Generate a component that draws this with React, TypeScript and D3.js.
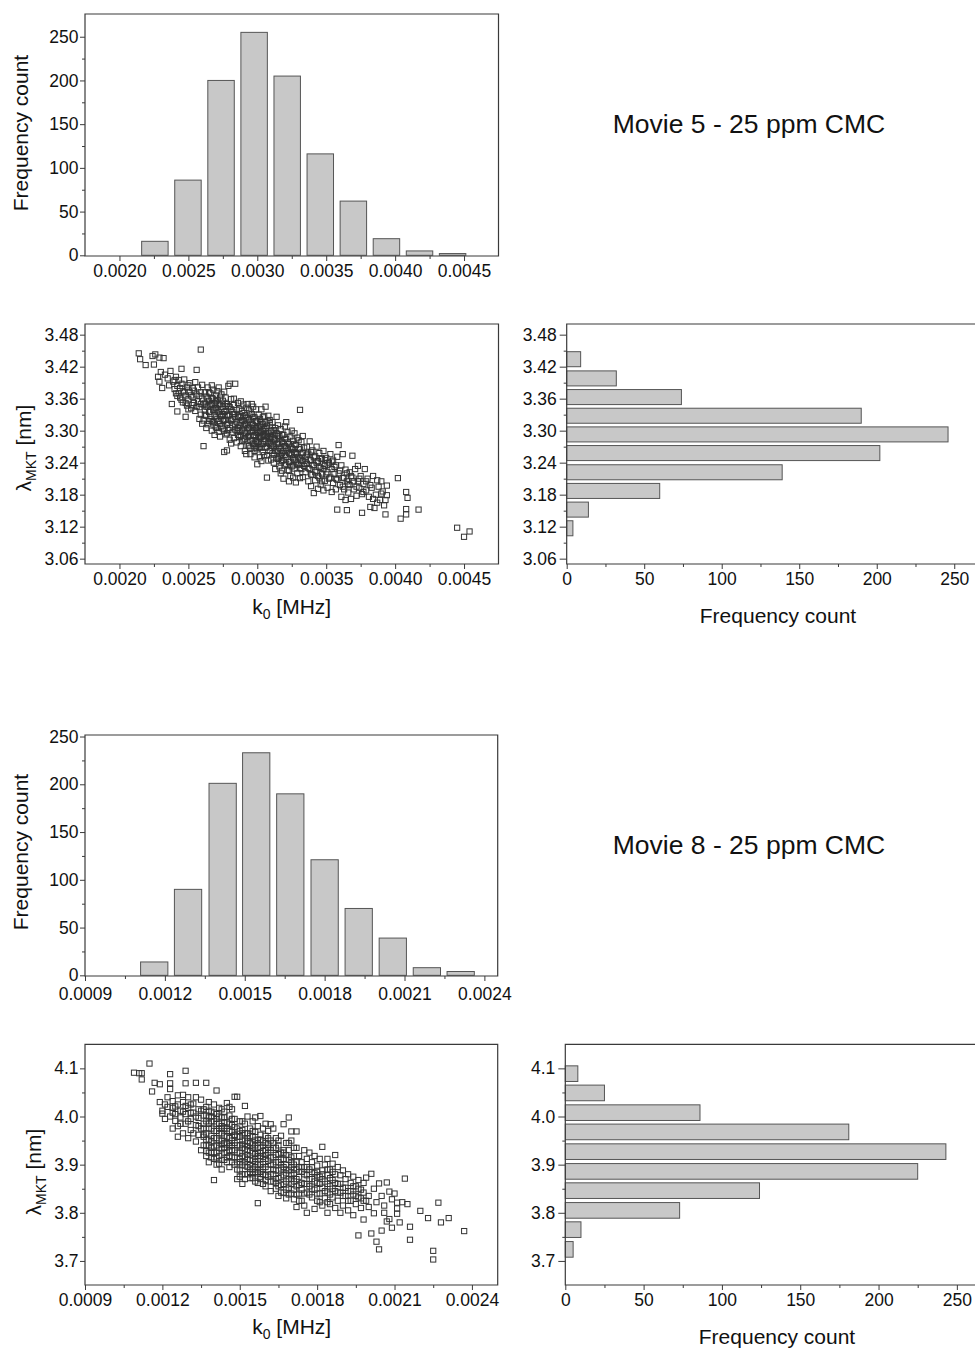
import React, { useEffect, useRef } from "react";
import * as d3 from "d3";

// k0 values are kept in units of 10^-3 MHz, lambda in nm

// Movie 5 - k0 histogram
const k0BinsMovie5 = [2.257, 2.497, 2.737, 2.977, 3.217, 3.457, 3.697, 3.937, 4.177, 4.417];
const k0CountsMovie5 = [16, 86, 200, 255, 205, 116, 62, 19, 5, 2];
const k0BinWidthMovie5 = 0.24;

// Movie 5 - lambda histogram
const lambdaBinsMovie5 = [3.117, 3.152, 3.187, 3.222, 3.258, 3.293, 3.328, 3.363, 3.398, 3.434];
const lambdaCountsMovie5 = [4, 14, 60, 139, 202, 246, 190, 74, 32, 9];
const lambdaBinWidthMovie5 = 0.0352;

// Movie 8 - k0 histogram
const k0BinsMovie8 = [1.16, 1.287, 1.417, 1.543, 1.671, 1.8, 1.928, 2.056, 2.184, 2.311];
const k0CountsMovie8 = [14, 90, 201, 233, 190, 121, 70, 39, 8, 4];
const k0BinWidthMovie8 = 0.128;

// Movie 8 - lambda histogram
const lambdaBinsMovie8 = [3.724, 3.765, 3.805, 3.846, 3.886, 3.927, 3.968, 4.008, 4.049, 4.089];
const lambdaCountsMovie8 = [5, 10, 73, 124, 225, 243, 181, 86, 25, 8];
const lambdaBinWidthMovie8 = 0.0406;

// tick values
const k0TicksMovie5 = [2.0, 2.5, 3.0, 3.5, 4.0, 4.5];
const k0MinorMovie5 = [2.25, 2.75, 3.25, 3.75, 4.25];
const k0TicksMovie8 = [0.9, 1.2, 1.5, 1.8, 2.1, 2.4];
const k0MinorMovie8 = [1.05, 1.35, 1.65, 1.95, 2.25];
const lambdaTicksMovie5 = [3.06, 3.12, 3.18, 3.24, 3.3, 3.36, 3.42, 3.48];
const lambdaMinorMovie5 = [3.09, 3.15, 3.21, 3.27, 3.33, 3.39, 3.45];
const lambdaTicksMovie8 = [3.7, 3.8, 3.9, 4.0, 4.1];
const lambdaMinorMovie8 = [3.75, 3.85, 3.95, 4.05];
const countTicks = [0, 50, 100, 150, 200, 250];
const countMinor = [25, 75, 125, 175, 225];

// Movie 5 scatter (k0, lambda)
const scatterMovie5: [number, number][] = [
  [2.14,3.445],[2.15,3.434],[2.19,3.423],[2.24,3.440],[2.26,3.443],[2.25,3.424],[2.29,3.437],[2.32,3.436],[2.28,3.401],[2.29,3.392],[2.30,3.410],[2.33,3.405],[2.35,3.398],[2.36,3.385],[2.37,3.412],[2.31,3.380],
  [2.45,3.416],[2.56,3.414],[2.59,3.452],[2.38,3.350],[2.42,3.336],[2.48,3.326],[2.61,3.271],
  [2.39,3.392],[2.40,3.378],[2.41,3.401],[2.42,3.384],[2.43,3.370],[2.43,3.395],[2.44,3.362],[2.45,3.388],[2.46,3.374],[2.46,3.353],[2.47,3.396],[2.48,3.366],[2.49,3.381],[2.49,3.347],[2.50,3.359],[2.51,3.389],[2.51,3.372],[2.52,3.342],[2.53,3.363],[2.53,3.380],[2.54,3.352],[2.55,3.391],[2.55,3.337],[2.56,3.368],[2.57,3.355],[2.57,3.381],[2.58,3.344],[2.59,3.372],[2.59,3.330],[2.60,3.360],[2.60,3.386],[2.61,3.349],[2.61,3.319],[2.62,3.338],[2.60,3.313],[2.58,3.322],
  [2.62,3.372],[2.62,3.351],[2.63,3.328],[2.63,3.364],[2.64,3.345],[2.64,3.381],[2.64,3.312],[2.65,3.356],[2.65,3.335],[2.66,3.370],[2.66,3.322],[2.66,3.348],[2.67,3.300],[2.67,3.361],[2.68,3.339],[2.68,3.377],[2.68,3.316],[2.69,3.352],[2.69,3.328],[2.70,3.366],[2.70,3.306],[2.70,3.343],[2.71,3.322],[2.71,3.357],[2.72,3.335],[2.72,3.381],[2.72,3.298],[2.73,3.349],[2.73,3.313],[2.74,3.368],[2.74,3.327],[2.74,3.341],[2.75,3.304],[2.75,3.356],[2.76,3.320],[2.76,3.373],[2.76,3.260],[2.77,3.337],[2.77,3.293],[2.78,3.350],[2.78,3.312],[2.78,3.263],[2.79,3.384],[2.79,3.328],[2.79,3.301],[2.80,3.344],[2.80,3.388],[2.80,3.283],[2.81,3.319],[2.81,3.359],[2.82,3.297],[2.82,3.335],[2.82,3.310],[2.83,3.360],[2.83,3.286],[2.83,3.348],[2.84,3.325],[2.84,3.388],[2.84,3.302],[2.85,3.339],[2.85,3.278],[2.85,3.316],[2.86,3.352],[2.86,3.292],[2.63,3.305],[2.67,3.385],[2.69,3.292],[2.71,3.374],[2.73,3.289],[2.75,3.331],[2.77,3.362],[2.79,3.346],[2.81,3.276],[2.83,3.331],[2.86,3.327],
  [2.87,3.341],[2.87,3.310],[2.87,3.288],[2.88,3.326],[2.88,3.355],[2.88,3.271],[2.89,3.302],[2.89,3.337],[2.90,3.318],[2.90,3.283],[2.90,3.349],[2.91,3.296],[2.91,3.329],[2.91,3.262],[2.92,3.311],[2.92,3.343],[2.93,3.288],[2.93,3.323],[2.93,3.272],[2.94,3.305],[2.94,3.338],[2.95,3.282],[2.95,3.317],[2.95,3.256],[2.96,3.298],[2.96,3.331],[2.96,3.350],[2.97,3.276],[2.97,3.311],[2.98,3.292],[2.98,3.325],[2.98,3.262],[2.99,3.305],[2.99,3.340],[2.99,3.281],[3.00,3.318],[3.00,3.296],[3.00,3.237],[3.01,3.269],[3.01,3.330],[3.01,3.308],[3.02,3.287],[3.02,3.250],[3.02,3.322],[3.03,3.299],[3.03,3.275],[3.03,3.340],[3.04,3.312],[3.04,3.260],[3.04,3.291],[3.05,3.327],[3.05,3.280],[3.05,3.303],[3.06,3.268],[3.06,3.345],[3.06,3.316],[3.07,3.290],[3.07,3.212],[3.07,3.254],[3.07,3.309],[3.08,3.277],[3.08,3.328],[3.08,3.296],[3.09,3.262],[3.09,3.314],[3.09,3.284],[3.10,3.300],[3.10,3.246],[3.10,3.272],[2.89,3.280],[2.92,3.256],[2.94,3.271],[2.97,3.345],[2.98,3.250],[3.00,3.278],[3.02,3.310],[3.03,3.243],[3.05,3.254],[3.06,3.293],[3.08,3.244],[2.90,3.300],[2.95,3.300],[2.97,3.290],[3.01,3.288],[3.04,3.325],[3.09,3.320],[2.86,3.305],[2.93,3.350],[2.99,3.268],[3.03,3.316],
  [3.11,3.287],[3.11,3.258],[3.11,3.316],[3.12,3.270],[3.12,3.240],[3.12,3.301],[3.13,3.283],[3.13,3.228],[3.14,3.326],[3.14,3.262],[3.14,3.295],[3.15,3.247],[3.15,3.276],[3.15,3.310],[3.16,3.233],[3.16,3.268],[3.16,3.290],[3.17,3.253],[3.17,3.220],[3.17,3.303],[3.18,3.279],[3.18,3.244],[3.19,3.262],[3.19,3.292],[3.19,3.210],[3.20,3.235],[3.20,3.271],[3.20,3.308],[3.21,3.251],[3.21,3.284],[3.22,3.226],[3.22,3.263],[3.22,3.297],[3.23,3.241],[3.23,3.275],[3.24,3.215],[3.24,3.256],[3.24,3.289],[3.25,3.233],[3.25,3.268],[3.26,3.248],[3.26,3.281],[3.26,3.212],[3.27,3.260],[3.27,3.229],[3.27,3.295],[3.28,3.242],[3.28,3.273],[3.29,3.220],[3.29,3.256],[3.29,3.287],[3.30,3.236],[3.30,3.266],[3.31,3.339],[3.31,3.248],[3.31,3.211],[3.32,3.279],[3.32,3.228],[3.32,3.259],[3.33,3.243],[3.33,3.290],[3.33,3.213],[3.34,3.268],[3.34,3.234],[3.13,3.305],[3.18,3.225],[3.21,3.316],[3.23,3.205],[3.25,3.300],[3.28,3.203],[3.30,3.282],[3.12,3.255],[3.16,3.250],[3.19,3.276],[3.26,3.265],
  [3.35,3.251],[3.35,3.222],[3.36,3.270],[3.36,3.238],[3.37,3.205],[3.37,3.257],[3.38,3.228],[3.38,3.280],[3.39,3.244],[3.39,3.196],[3.40,3.263],[3.40,3.217],[3.41,3.183],[3.41,3.236],[3.42,3.252],[3.42,3.207],[3.43,3.270],[3.43,3.225],[3.44,3.191],[3.44,3.243],[3.45,3.212],[3.45,3.258],[3.46,3.230],[3.46,3.199],[3.47,3.247],[3.47,3.218],[3.48,3.262],[3.48,3.188],[3.49,3.234],[3.49,3.206],[3.50,3.249],[3.51,3.222],[3.51,3.193],[3.52,3.240],[3.52,3.210],[3.53,3.256],[3.54,3.228],[3.54,3.185],[3.55,3.244],[3.55,3.202],[3.56,3.219],[3.57,3.235],[3.57,3.190],[3.58,3.251],[3.58,3.208],
  [3.59,3.273],[3.62,3.256],[3.69,3.253],[3.58,3.152],[3.65,3.151],[3.76,3.146],[3.73,3.234],[3.78,3.228],
  [3.59,3.220],[3.60,3.198],[3.61,3.235],[3.61,3.176],[3.62,3.211],[3.63,3.190],[3.64,3.227],[3.64,3.170],[3.65,3.205],[3.66,3.184],[3.67,3.222],[3.67,3.198],[3.68,3.172],[3.69,3.212],[3.70,3.190],[3.71,3.228],[3.72,3.178],[3.73,3.205],[3.74,3.193],[3.75,3.215],[3.76,3.181],[3.77,3.200],[3.79,3.188],[3.80,3.210],[3.81,3.176],
  [3.82,3.157],[3.85,3.155],[3.93,3.143],[4.02,3.211],[3.94,3.197],[3.94,3.179],[3.93,3.170],[3.87,3.207],[3.83,3.193],[3.84,3.215],[3.86,3.180],[3.88,3.195],[3.89,3.170],[3.90,3.205],[3.91,3.186],[3.92,3.160],[3.84,3.172],[3.87,3.165],[3.90,3.182],[4.04,3.135],
  [4.08,3.185],[4.09,3.174],[4.08,3.153],[4.08,3.143],[4.17,3.152],
  [4.45,3.118],[4.50,3.101],[4.54,3.111],
  // denser core
  [2.40,3.395],[2.41,3.370],[2.42,3.365],[2.44,3.380],[2.45,3.358],[2.47,3.372],[2.48,3.352],[2.50,3.385],[2.50,3.340],[2.52,3.366],[2.53,3.348],[2.54,3.375],[2.56,3.345],[2.58,3.365],[2.59,3.350],
  [2.62,3.330],[2.63,3.345],[2.64,3.360],[2.65,3.318],[2.65,3.372],[2.66,3.336],[2.67,3.350],[2.67,3.318],[2.68,3.360],[2.69,3.340],[2.69,3.310],[2.70,3.355],[2.70,3.325],[2.71,3.338],[2.71,3.305],[2.72,3.350],[2.72,3.318],[2.73,3.362],[2.73,3.330],[2.74,3.308],[2.75,3.345],[2.75,3.318],[2.76,3.335],[2.76,3.300],[2.77,3.350],[2.77,3.320],[2.78,3.330],[2.78,3.295],[2.79,3.315],[2.80,3.330],[2.80,3.305],[2.81,3.340],[2.82,3.322],[2.84,3.312],[2.85,3.300],
  [2.87,3.325],[2.87,3.300],[2.88,3.315],[2.88,3.290],[2.89,3.320],[2.90,3.333],[2.90,3.308],[2.91,3.285],[2.91,3.312],[2.92,3.295],[2.92,3.325],[2.93,3.305],[2.94,3.290],[2.94,3.320],[2.95,3.268],[2.95,3.332],[2.96,3.312],[2.96,3.280],[2.97,3.300],[2.97,3.325],[2.98,3.305],[2.98,3.275],[2.99,3.292],[2.99,3.318],[3.00,3.306],[3.00,3.265],[3.01,3.295],[3.01,3.280],[3.02,3.298],[3.02,3.268],[3.03,3.288],[3.04,3.275],[3.04,3.300],[3.05,3.292],[3.06,3.280],[3.06,3.305],[3.07,3.270],[3.08,3.288],[3.09,3.275],[3.10,3.288],
  [3.11,3.272],[3.11,3.300],[3.12,3.285],[3.13,3.262],[3.13,3.293],[3.14,3.275],[3.14,3.248],[3.15,3.262],[3.15,3.290],[3.16,3.278],[3.17,3.265],[3.17,3.240],[3.18,3.292],[3.18,3.258],[3.19,3.245],[3.20,3.285],[3.20,3.255],[3.21,3.268],[3.21,3.238],[3.22,3.278],[3.23,3.258],[3.23,3.225],[3.24,3.270],[3.24,3.242],[3.25,3.255],[3.26,3.235],[3.27,3.275],[3.27,3.245],[3.28,3.258],[3.29,3.238],[3.30,3.250],[3.31,3.265],[3.31,3.230],[3.32,3.245],[3.33,3.258],
  [3.35,3.238],[3.36,3.255],[3.37,3.230],[3.38,3.245],[3.39,3.218],[3.39,3.260],[3.40,3.235],[3.41,3.250],[3.42,3.222],[3.43,3.240],[3.44,3.215],[3.45,3.232],[3.46,3.248],[3.47,3.205],[3.48,3.228],[3.49,3.245],[3.50,3.218],[3.51,3.236],[3.53,3.212],[3.54,3.242],[3.56,3.232],[3.57,3.210],
  [3.60,3.225],[3.62,3.195],[3.63,3.212],[3.65,3.220],[3.66,3.200],[3.68,3.215],[3.70,3.205],[3.72,3.195],[3.74,3.210],[3.77,3.185],[3.79,3.205],[3.82,3.198],
];

// Movie 8 scatter (k0, lambda)
const scatterMovie8: [number, number][] = [
  [1.09,4.091],[1.11,4.090],[1.12,4.090],[1.12,4.077],[1.15,4.110],[1.16,4.052],[1.17,4.070],[1.19,4.067],[1.19,4.030],[1.20,4.012],[1.21,3.995],[1.22,4.040],[1.20,4.006],[1.21,4.025],
  [1.23,4.088],[1.29,4.095],[1.23,4.069],[1.23,4.057],[1.29,4.069],[1.33,4.070],
  [1.24,4.032],[1.24,4.008],[1.25,3.991],[1.25,4.021],[1.26,4.044],[1.26,3.980],[1.27,4.012],[1.27,3.998],[1.28,4.030],[1.28,3.965],[1.29,4.005],[1.29,3.985],[1.30,4.040],[1.30,4.018],[1.30,3.955],[1.31,3.995],[1.31,3.972],[1.32,4.027],[1.32,4.008],[1.33,3.982],[1.33,3.948],[1.34,4.015],[1.34,3.962],[1.34,3.997],[1.35,4.035],[1.35,3.975],[1.35,3.930],[1.36,4.002],[1.36,3.958],[1.24,3.975],[1.26,3.958],[1.28,4.045],[1.31,4.025],[1.33,4.040],
  [1.37,4.070],[1.41,4.054],[1.40,3.868],[1.48,4.041],
  [1.36,3.985],[1.36,3.940],[1.37,4.020],[1.37,3.965],[1.37,3.918],[1.38,3.998],[1.38,3.952],[1.38,4.030],[1.38,3.905],[1.39,3.975],[1.39,3.935],[1.39,4.010],[1.40,3.990],[1.40,3.955],[1.40,3.925],[1.40,4.025],[1.41,3.970],[1.41,3.940],[1.41,4.005],[1.41,3.900],[1.42,3.985],[1.42,3.950],[1.42,3.918],[1.42,4.018],[1.43,3.965],[1.43,3.932],[1.43,3.998],[1.43,3.890],[1.44,4.010],[1.44,3.975],[1.44,3.945],[1.44,3.910],[1.45,3.988],[1.45,3.958],[1.45,4.028],[1.45,3.925],[1.46,3.970],[1.46,3.938],[1.46,4.002],[1.46,3.895],[1.47,3.982],[1.47,3.950],[1.47,3.915],[1.47,4.015],[1.48,3.962],[1.48,3.930],[1.48,3.995],[1.48,3.900],[1.37,3.990],[1.38,3.925],[1.39,3.960],[1.40,3.938],[1.41,3.985],[1.42,3.935],[1.43,3.950],[1.44,3.960],[1.45,3.905],[1.46,3.955],[1.47,3.930],[1.48,3.978],[1.39,4.000],[1.43,4.015],[1.46,4.020],[1.36,3.962],[1.38,3.975],[1.40,3.970],[1.42,3.965],[1.44,3.988],[1.45,3.942],[1.47,3.968],[1.39,3.915],[1.41,3.955],[1.43,3.910],[1.46,3.918],[1.48,3.945],[1.37,3.940],
  [1.49,4.041],[1.52,4.022],[1.58,4.001],[1.57,3.820],
  [1.49,3.975],[1.49,3.940],[1.49,3.905],[1.49,3.870],[1.50,3.990],[1.50,3.958],[1.50,3.925],[1.50,3.888],[1.51,3.972],[1.51,3.935],[1.51,3.900],[1.51,3.860],[1.52,3.985],[1.52,3.950],[1.52,3.915],[1.52,3.880],[1.53,3.965],[1.53,3.930],[1.53,3.895],[1.53,4.000],[1.54,3.945],[1.54,3.910],[1.54,3.975],[1.54,3.872],[1.55,3.958],[1.55,3.925],[1.55,3.890],[1.55,3.990],[1.56,3.940],[1.56,3.905],[1.56,3.968],[1.56,3.865],[1.57,3.952],[1.57,3.918],[1.57,3.882],[1.57,3.980],[1.58,3.935],[1.58,3.900],[1.58,3.962],[1.58,3.870],[1.59,3.948],[1.59,3.912],[1.59,3.880],[1.59,3.975],[1.60,3.930],[1.60,3.895],[1.60,3.960],[1.60,3.855],[1.61,3.942],[1.61,3.908],[1.61,3.875],[1.61,3.970],[1.50,3.940],[1.51,3.918],[1.52,3.932],[1.53,3.912],[1.54,3.928],[1.55,3.942],[1.56,3.922],[1.57,3.935],[1.58,3.918],[1.59,3.928],[1.60,3.912],[1.49,3.958],[1.51,3.950],[1.53,3.948],[1.55,3.908],[1.57,3.900],[1.59,3.895],[1.61,3.925],[1.50,3.875],[1.52,3.898],[1.54,3.892],[1.56,3.885],[1.58,3.952],[1.60,3.878],[1.53,3.880],[1.55,3.872],[1.57,3.862],[1.59,3.860],[1.51,3.990],[1.56,3.998],[1.60,3.985],
  [1.63,3.975],[1.67,3.984],[1.69,3.998],[1.70,3.969],[1.72,3.969],[1.62,3.984],
  [1.62,3.950],[1.62,3.915],[1.62,3.880],[1.62,3.845],[1.63,3.935],[1.63,3.900],[1.63,3.865],[1.64,3.955],[1.64,3.920],[1.64,3.888],[1.64,3.850],[1.65,3.940],[1.65,3.905],[1.65,3.872],[1.65,3.835],[1.66,3.925],[1.66,3.892],[1.66,3.858],[1.66,3.960],[1.67,3.912],[1.67,3.878],[1.67,3.842],[1.68,3.945],[1.68,3.900],[1.68,3.865],[1.68,3.830],[1.69,3.930],[1.69,3.888],[1.69,3.852],[1.70,3.915],[1.70,3.878],[1.70,3.840],[1.70,3.950],[1.71,3.900],[1.71,3.865],[1.71,3.828],[1.72,3.935],[1.72,3.890],[1.72,3.855],[1.72,3.812],[1.73,3.918],[1.73,3.875],[1.73,3.840],[1.74,3.905],[1.74,3.862],[1.74,3.825],[1.63,3.890],[1.65,3.888],[1.67,3.895],[1.69,3.870],[1.71,3.882],[1.73,3.895],[1.64,3.870],[1.66,3.910],[1.68,3.882],[1.70,3.895],[1.72,3.870],[1.62,3.900],[1.64,3.935],[1.66,3.875],[1.68,3.920],[1.70,3.860],[1.73,3.858],[1.67,3.930],[1.71,3.918],[1.74,3.885],
  [1.75,3.930],[1.75,3.895],[1.75,3.860],[1.75,3.815],[1.76,3.912],[1.76,3.878],[1.76,3.842],[1.76,3.800],[1.77,3.925],[1.77,3.890],[1.77,3.855],[1.78,3.905],[1.78,3.870],[1.78,3.832],[1.79,3.918],[1.79,3.882],[1.79,3.848],[1.79,3.808],[1.80,3.898],[1.80,3.862],[1.80,3.825],[1.81,3.912],[1.81,3.875],[1.81,3.840],[1.82,3.937],[1.82,3.888],[1.82,3.852],[1.82,3.815],[1.83,3.900],[1.83,3.865],[1.83,3.830],[1.84,3.912],[1.84,3.878],[1.84,3.842],[1.84,3.800],[1.85,3.890],[1.85,3.855],[1.85,3.818],[1.86,3.902],[1.86,3.868],[1.86,3.832],[1.87,3.920],[1.87,3.880],[1.87,3.845],[1.78,3.885],[1.80,3.878],[1.82,3.870],[1.84,3.860],[1.86,3.850],[1.77,3.870],
  [1.87,3.810],[1.88,3.895],[1.88,3.860],[1.88,3.825],[1.89,3.878],[1.89,3.842],[1.89,3.800],[1.90,3.888],[1.90,3.852],[1.90,3.815],[1.91,3.870],[1.91,3.835],[1.92,3.880],[1.92,3.845],[1.92,3.805],[1.93,3.862],[1.93,3.825],[1.94,3.875],[1.94,3.838],[1.94,3.795],[1.95,3.855],[1.95,3.818],[1.96,3.868],[1.96,3.832],[1.97,3.848],[1.97,3.810],[1.98,3.862],[1.98,3.825],[1.99,3.873],[1.96,3.753],[1.98,3.786],
  [2.01,3.881],[2.04,3.861],[2.07,3.863],[2.08,3.844],[2.11,3.809],[2.11,3.821],[2.11,3.798],[2.12,3.780],[2.09,3.769],[2.05,3.763],[2.03,3.740],[2.04,3.724],[2.01,3.757],[2.02,3.799],[2.06,3.800],[2.07,3.782],[2.08,3.787],[2.00,3.835],[2.00,3.812],[2.02,3.850],[2.03,3.822],[2.05,3.835],[2.06,3.815],[2.09,3.828],[2.10,3.840],
  [2.14,3.871],[2.15,3.818],[2.20,3.804],[2.23,3.789],[2.16,3.744],[2.16,3.771],[2.25,3.721],[2.13,3.822],
  [2.25,3.703],[2.27,3.821],[2.28,3.780],[2.31,3.789],[2.37,3.762],
  // denser core
  [1.22,4.020],[1.23,4.000],[1.24,4.018],[1.25,4.005],[1.26,4.025],[1.27,3.985],[1.28,4.010],[1.29,4.022],[1.30,3.990],[1.31,4.008],[1.32,3.965],[1.33,4.000],[1.34,3.980],[1.35,4.012],[1.36,3.975],
  [1.36,4.015],[1.37,3.952],[1.37,4.002],[1.38,3.985],[1.38,3.940],[1.39,3.990],[1.39,3.948],[1.40,4.008],[1.40,3.912],[1.41,3.995],[1.41,3.925],[1.42,4.000],[1.42,3.975],[1.43,3.980],[1.43,3.942],[1.44,3.998],[1.44,3.925],[1.45,3.970],[1.45,3.915],[1.46,3.985],[1.46,3.945],[1.47,3.995],[1.47,3.940],[1.48,3.960],[1.48,3.915],[1.37,3.928],[1.39,3.925],[1.41,3.915],[1.43,3.975],[1.45,3.975],[1.47,3.905],[1.38,4.012],[1.42,3.902],[1.44,3.935],[1.46,3.930],
  [1.49,3.925],[1.49,3.890],[1.50,3.970],[1.50,3.905],[1.51,3.942],[1.51,3.880],[1.52,3.965],[1.52,3.905],[1.52,3.870],[1.53,3.955],[1.53,3.920],[1.54,3.960],[1.54,3.900],[1.55,3.935],[1.55,3.880],[1.56,3.950],[1.56,3.912],[1.57,3.945],[1.57,3.890],[1.58,3.925],[1.58,3.885],[1.59,3.940],[1.59,3.905],[1.60,3.945],[1.60,3.920],[1.61,3.890],[1.61,3.955],[1.50,3.912],[1.51,3.965],[1.53,3.938],[1.54,3.885],[1.55,3.970],[1.56,3.895],[1.57,3.925],[1.58,3.875],[1.59,3.890],[1.60,3.868],[1.61,3.935],
  [1.62,3.930],[1.62,3.865],[1.63,3.915],[1.63,3.880],[1.64,3.905],[1.64,3.862],[1.65,3.922],[1.65,3.855],[1.66,3.900],[1.66,3.842],[1.67,3.925],[1.67,3.860],[1.68,3.890],[1.68,3.848],[1.69,3.910],[1.69,3.838],[1.70,3.905],[1.70,3.870],[1.71,3.890],[1.71,3.848],[1.72,3.905],[1.72,3.838],[1.73,3.885],[1.73,3.825],[1.74,3.895],[1.74,3.848],[1.63,3.945],[1.65,3.950],[1.69,3.945],[1.71,3.935],
  [1.75,3.880],[1.75,3.840],[1.76,3.895],[1.76,3.860],[1.77,3.838],[1.78,3.895],[1.78,3.850],[1.79,3.865],[1.80,3.885],[1.80,3.840],[1.81,3.860],[1.81,3.822],[1.82,3.880],[1.83,3.845],[1.84,3.890],[1.84,3.822],[1.85,3.872],[1.85,3.838],[1.86,3.885],[1.87,3.862],
  [1.88,3.842],[1.89,3.860],[1.90,3.835],[1.91,3.852],[1.92,3.825],[1.93,3.845],[1.94,3.855],[1.95,3.835],[1.96,3.850],[1.97,3.830],[1.98,3.842],[1.99,3.825],
];

const axisColor = "#3a3a3a";
const tickFont = "'Liberation Sans', Arial, sans-serif";
const labelFont = "'Liberation Sans', Arial, sans-serif";

type Box = { left: number; top: number; right: number; bottom: number };
type G = d3.Selection<SVGGElement, unknown, null, undefined>;

function styleAxis(a: G) {
  a.select(".domain").remove();
  a.selectAll("line").attr("stroke", axisColor).attr("stroke-width", 1);
  a.selectAll("text").attr("fill", "#111").attr("font-family", tickFont).attr("font-size", 17.5);
}

function drawAxes(
  g: G, b: Box, x: d3.ScaleLinear<number, number>, y: d3.ScaleLinear<number, number>,
  xt: number[], xm: number[], xf: (d: number) => string,
  yt: number[], ym: number[], yf: (d: number) => string,
  leftTick: number, leftPad: number, openRight: boolean, xPad = 4
) {
  // major and minor ticks need their own groups, or the second call replaces the first
  const xa = g.append("g").attr("transform", `translate(0,${b.bottom})`);
  xa.call(d3.axisBottom(x).tickValues(xt).tickSize(5).tickPadding(xPad).tickFormat((d) => xf(+d)));
  styleAxis(xa);
  const xmi = g.append("g").attr("transform", `translate(0,${b.bottom})`);
  xmi.call(d3.axisBottom(x).tickValues(xm).tickSize(3).tickFormat(() => ""));
  styleAxis(xmi);

  const ya = g.append("g").attr("transform", `translate(${b.left},0)`);
  ya.call(d3.axisLeft(y).tickValues(yt).tickSize(leftTick).tickPadding(leftPad).tickFormat((d) => yf(+d)));
  styleAxis(ya);
  const ymi = g.append("g").attr("transform", `translate(${b.left},0)`);
  ymi.call(d3.axisLeft(y).tickValues(ym).tickSize(3).tickFormat(() => ""));
  styleAxis(ymi);

  // frame
  const p = d3.path();
  if (openRight) {
    p.moveTo(b.right, b.top);
    p.lineTo(b.left, b.top);
    p.lineTo(b.left, b.bottom);
    p.lineTo(b.right, b.bottom);
  } else {
    p.rect(b.left, b.top, b.right - b.left, b.bottom - b.top);
  }
  g.append("path").attr("d", p.toString()).attr("fill", "none").attr("stroke", axisColor).attr("stroke-width", 1.2);
}

function vHist(g: G, b: Box, xd: [number, number], yd: [number, number], bins: number[], counts: number[], w: number) {
  const x = d3.scaleLinear().domain(xd).range([b.left, b.right]);
  const y = d3.scaleLinear().domain(yd).range([b.bottom, b.top]);
  const bw = w * 0.8;
  g.append("g").selectAll("rect").data(bins).join("rect")
    .attr("x", (d) => x(d - bw / 2))
    .attr("width", (d) => x(d + bw / 2) - x(d - bw / 2))
    .attr("y", (d, i) => y(counts[i]))
    .attr("height", (d, i) => y(0) - y(counts[i]))
    .attr("fill", "#c8c8c8").attr("stroke", "#555").attr("stroke-width", 1);
  return { x, y };
}

function hHist(g: G, b: Box, xd: [number, number], yd: [number, number], bins: number[], counts: number[], w: number) {
  const x = d3.scaleLinear().domain(xd).range([b.left, b.right]);
  const y = d3.scaleLinear().domain(yd).range([b.bottom, b.top]);
  const bw = w * 0.8;
  g.append("g").selectAll("rect").data(bins).join("rect")
    .attr("y", (d) => y(d + bw / 2))
    .attr("height", (d) => y(d - bw / 2) - y(d + bw / 2))
    .attr("x", x(0))
    .attr("width", (d, i) => x(counts[i]) - x(0))
    .attr("fill", "#c8c8c8").attr("stroke", "#555").attr("stroke-width", 1);
  return { x, y };
}

function scatter(g: G, b: Box, xd: [number, number], yd: [number, number], pts: [number, number][]) {
  const x = d3.scaleLinear().domain(xd).range([b.left, b.right]);
  const y = d3.scaleLinear().domain(yd).range([b.bottom, b.top]);
  const s = 5.2;
  g.append("g").selectAll("rect").data(pts).join("rect")
    .attr("x", (d) => x(d[0]) - s / 2)
    .attr("y", (d) => y(d[1]) - s / 2)
    .attr("width", s).attr("height", s)
    .attr("fill", "none").attr("stroke", "#333").attr("stroke-width", 1);
  return { x, y };
}

function label(g: G, x: number, y: number, text: string, size: number, rotate = false) {
  g.append("text")
    .attr("transform", rotate ? `translate(${x},${y}) rotate(-90)` : `translate(${x},${y})`)
    .attr("text-anchor", "middle").attr("font-family", labelFont).attr("font-size", size).attr("fill", "#111")
    .text(text);
}

function subLabel(g: G, x: number, y: number, main: string, sub: string, rest: string, rotate = false) {
  const t = g.append("text")
    .attr("transform", rotate ? `translate(${x},${y}) rotate(-90)` : `translate(${x},${y})`)
    .attr("text-anchor", "middle").attr("font-family", labelFont).attr("font-size", 21).attr("fill", "#111");
  t.append("tspan").text(main);
  t.append("tspan").attr("font-size", 14).attr("dy", 5).text(sub);
  t.append("tspan").attr("dy", -5).text(rest);
}

const fmtK0 = (d: number) => (d / 1000).toFixed(4);
const fmtCount = (d: number) => String(d);

export default function App() {
  const ref = useRef<SVGSVGElement>(null);

  useEffect(() => {
    const svg = d3.select(ref.current);
    svg.selectAll("*").remove();
    const g = svg.append("g") as unknown as G;

    // ---------- Movie 5 ----------
    const b1 = { left: 85, top: 14, right: 498.5, bottom: 256 };
    const h1 = vHist(g, b1, [1.75, 4.75], [-0.8, 276], k0BinsMovie5, k0CountsMovie5, k0BinWidthMovie5);
    drawAxes(g, b1, h1.x, h1.y, k0TicksMovie5, k0MinorMovie5, fmtK0, countTicks, countMinor, fmtCount, 5, 1.5, false);
    label(g, 28, 133, "Frequency count", 21, true);

    const b2 = { left: 85, top: 324, right: 498.5, bottom: 564 };
    const s1 = scatter(g, b2, [1.75, 4.75], [3.05, 3.5], scatterMovie5);
    drawAxes(g, b2, s1.x, s1.y, k0TicksMovie5, k0MinorMovie5, fmtK0, lambdaTicksMovie5, lambdaMinorMovie5, (d) => d.toFixed(2), 5, 1.5, false);
    subLabel(g, 291.7, 614, "k", "0", " [MHz]");
    subLabel(g, 31, 448, "λ", "MKT", " [nm]", true);

    const b3 = { left: 566.7, top: 324, right: 993, bottom: 564 };
    const r1 = hHist(g, b3, [0, 275], [3.05, 3.5], lambdaBinsMovie5, lambdaCountsMovie5, lambdaBinWidthMovie5);
    drawAxes(g, b3, r1.x, r1.y, countTicks, countMinor, fmtCount, lambdaTicksMovie5, lambdaMinorMovie5, (d) => d.toFixed(2), 7, 3, true);
    label(g, 778, 623, "Frequency count", 21);

    label(g, 749, 133, "Movie 5 - 25 ppm CMC", 26.5);

    // ---------- Movie 8 ----------
    const b4 = { left: 85, top: 735, right: 497.7, bottom: 976 };
    const h2 = vHist(g, b4, [0.9, 2.45], [-0.7, 251.6], k0BinsMovie8, k0CountsMovie8, k0BinWidthMovie8);
    // the 0.0009 label sits right under the "0" count label, so give it a little more room
    drawAxes(g, b4, h2.x, h2.y, k0TicksMovie8, k0MinorMovie8, fmtK0, countTicks, countMinor, fmtCount, 5, 1.5, false, 7);
    label(g, 28, 852, "Frequency count", 21, true);

    const b5 = { left: 85, top: 1044.3, right: 497.7, bottom: 1285 };
    const s2 = scatter(g, b5, [0.9, 2.5], [3.65, 4.15], scatterMovie8);
    drawAxes(g, b5, s2.x, s2.y, k0TicksMovie8, k0MinorMovie8, fmtK0, lambdaTicksMovie8, lambdaMinorMovie8, (d) => d.toFixed(1), 5, 1.5, false);
    subLabel(g, 291.7, 1334, "k", "0", " [MHz]");
    subLabel(g, 41, 1172, "λ", "MKT", " [nm]", true);

    const b6 = { left: 565.3, top: 1044.3, right: 996, bottom: 1285 };
    const r2 = hHist(g, b6, [0, 275], [3.65, 4.15], lambdaBinsMovie8, lambdaCountsMovie8, lambdaBinWidthMovie8);
    drawAxes(g, b6, r2.x, r2.y, countTicks, countMinor, fmtCount, lambdaTicksMovie8, lambdaMinorMovie8, (d) => d.toFixed(1), 7, 3, true);
    label(g, 777, 1344, "Frequency count", 21);

    label(g, 749, 854, "Movie 8 - 25 ppm CMC", 26.5);
  }, []);

  return (
    <svg
      ref={ref}
      width={975}
      height={1349}
      style={{ position: "absolute", left: 0, top: 0, display: "block", background: "#fff" }}
    />
  );
}
